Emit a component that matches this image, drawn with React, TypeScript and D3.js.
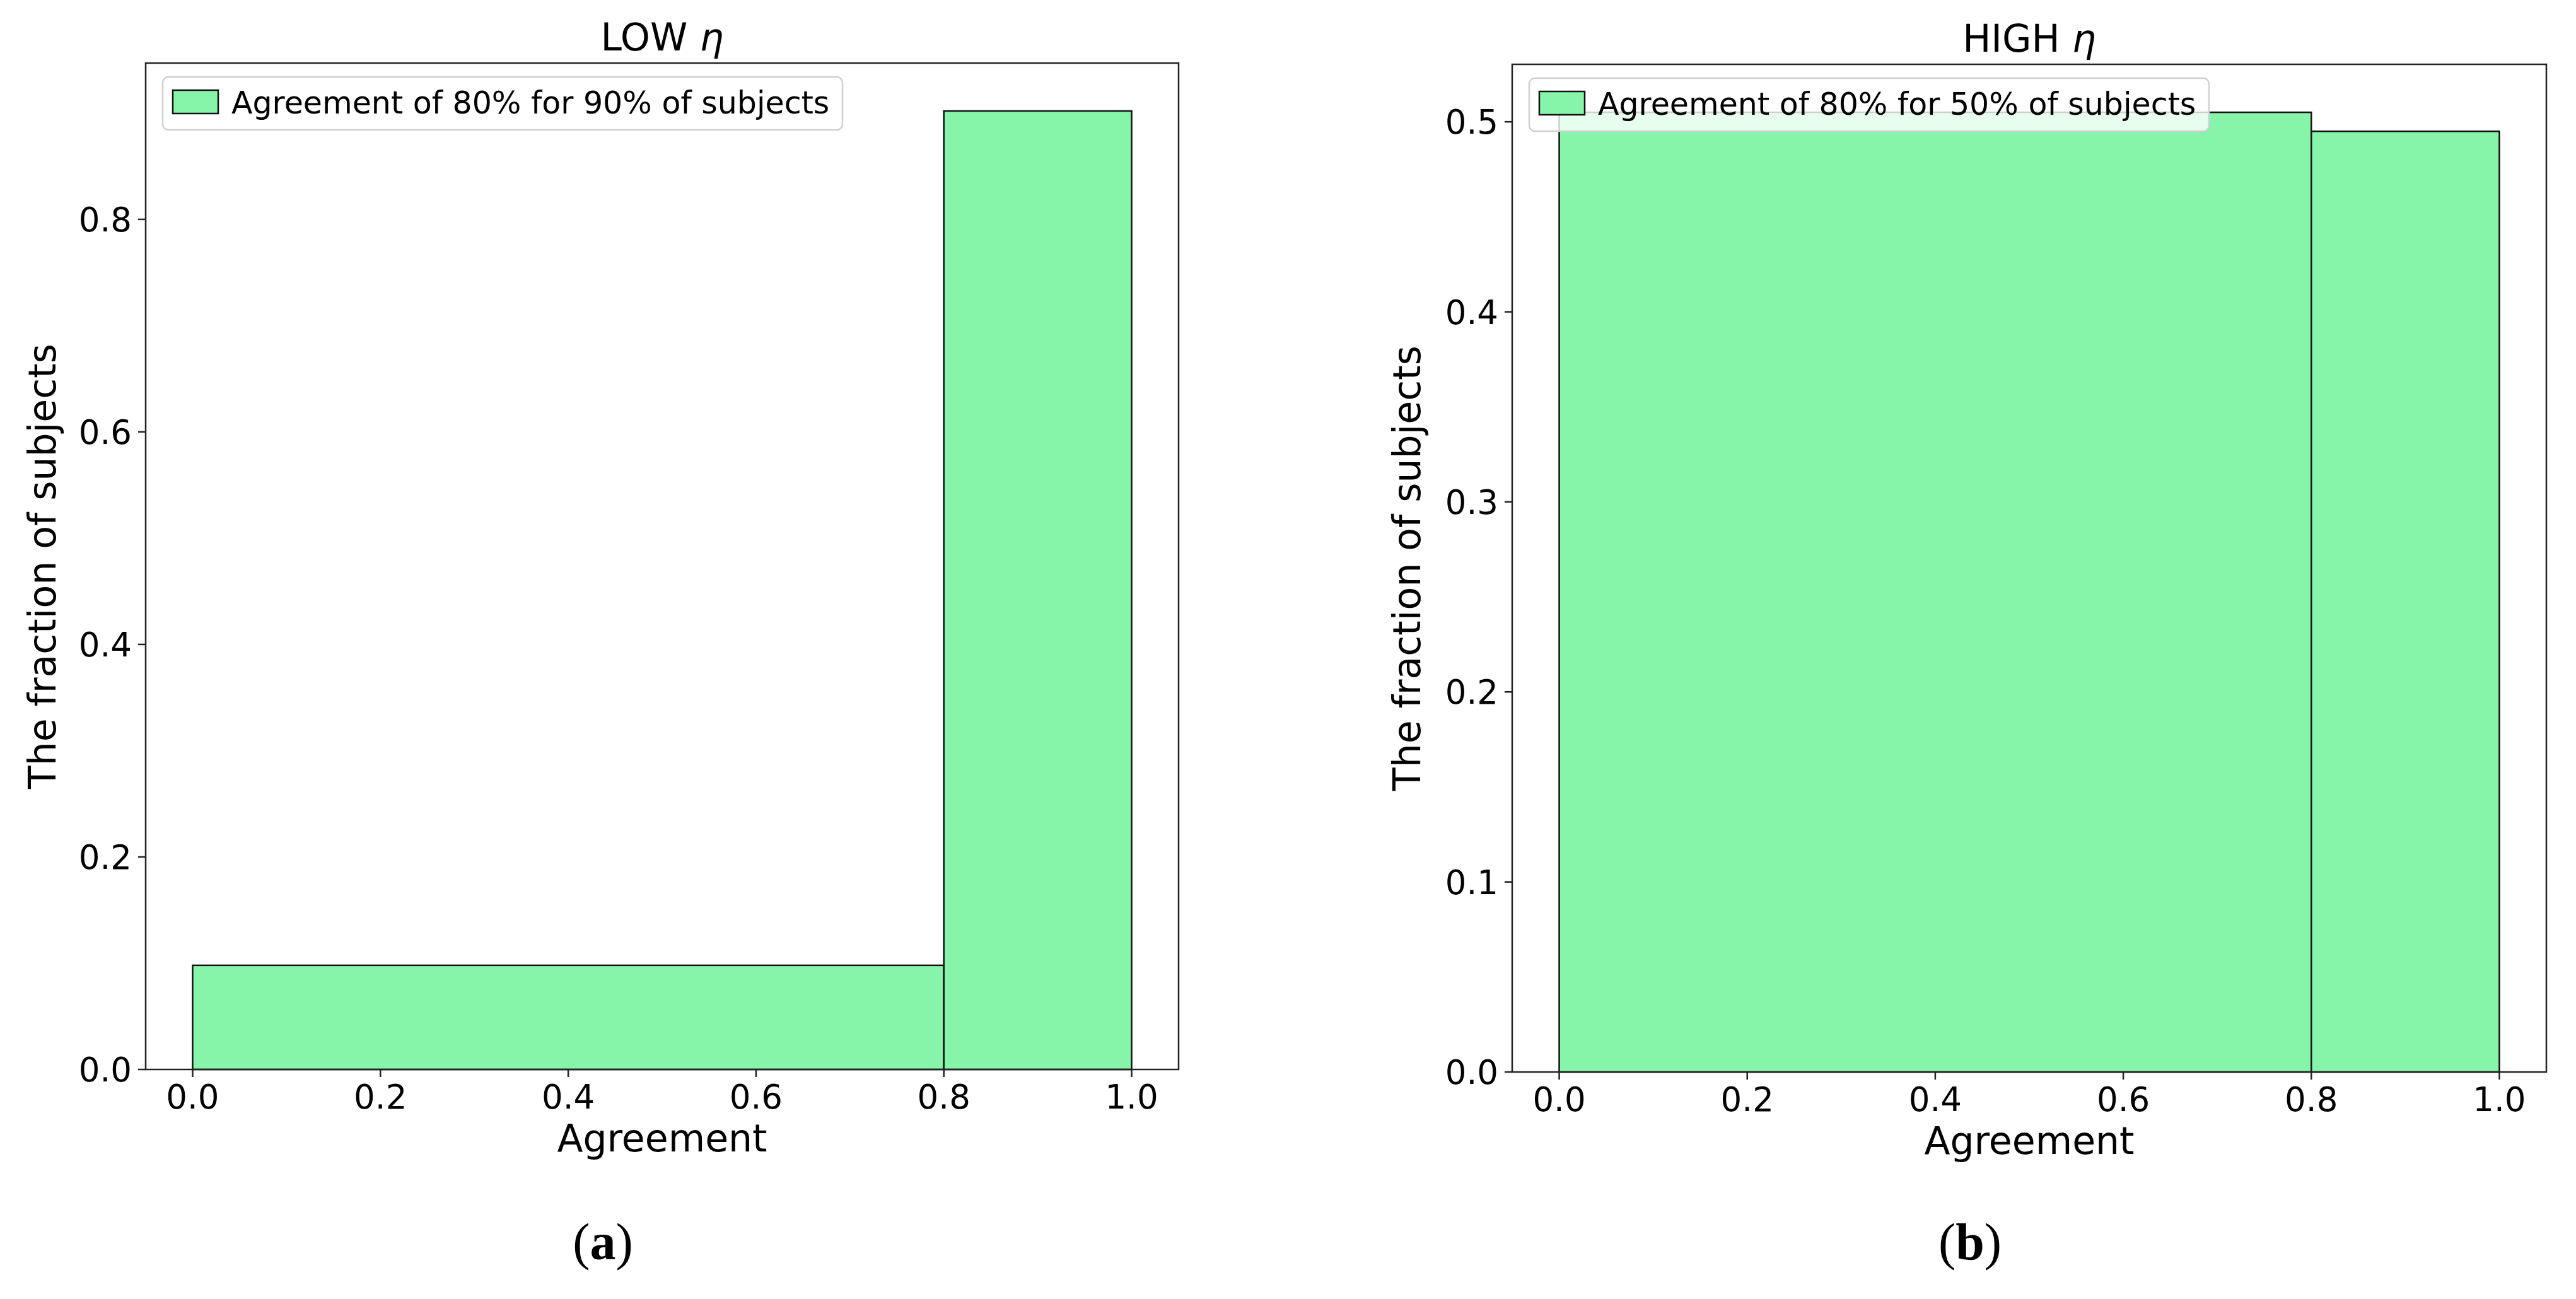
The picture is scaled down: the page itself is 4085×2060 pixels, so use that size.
import React from "react";
import * as d3 from "d3";

const binEdges = [0, 0.8, 1.0];
const lowEtaFractions = [0.098, 0.902];
const highEtaFractions = [0.505, 0.495];
const xTickValues = [0, 0.2, 0.4, 0.6, 0.8, 1.0];
const lowYTickValues = [0, 0.2, 0.4, 0.6, 0.8];
const highYTickValues = [0, 0.1, 0.2, 0.3, 0.4, 0.5];
const titlesMain = ["LOW", "HIGH"];
const legendLabels = [
  "Agreement of 80% for 90% of subjects",
  "Agreement of 80% for 50% of subjects",
];
const panelLetters = ["a", "b"];

const FONT = "'DejaVu Sans', sans-serif";
const FILL = "#86f4a9";

type PanelProps = {
  left: number;
  right: number;
  top: number;
  bottom: number;
  values: number[];
  yTicks: number[];
  title: string;
  legend: string;
  letter: string;
  ylabelX: number;
};

function Panel(p: PanelProps) {
  const x = d3.scaleLinear().domain([-0.05, 1.05]).range([p.left, p.right]);
  const ymax = (d3.max(p.values) as number) * 1.05;
  const y = d3.scaleLinear().domain([0, ymax]).range([p.bottom, p.top]);
  const bars = p.values.map((v, i) => ({ x0: binEdges[i], x1: binEdges[i + 1], v }));
  const cx = (p.left + p.right) / 2;
  const cy = (p.top + p.bottom) / 2;
  const lx = p.left + 27;
  const ly = p.top + 22;
  return (
    <g>
      {bars.map((b, i) => (
        <rect
          key={i}
          x={x(b.x0)}
          y={y(b.v)}
          width={x(b.x1) - x(b.x0)}
          height={y(0) - y(b.v)}
          fill={FILL}
          stroke="#111"
          strokeWidth={2.5}
        />
      ))}
      <rect
        x={p.left}
        y={p.top}
        width={p.right - p.left}
        height={p.bottom - p.top}
        fill="none"
        stroke="#222"
        strokeWidth={2.5}
      />
      {xTickValues.map((t) => (
        <g key={"x" + t}>
          <line x1={x(t)} x2={x(t)} y1={p.bottom} y2={p.bottom + 12} stroke="#222" strokeWidth={2.5} />
          <text x={x(t)} y={p.bottom + 62} textAnchor="middle" fontFamily={FONT} fontSize={53} fill="#000">
            {t.toFixed(1)}
          </text>
        </g>
      ))}
      {p.yTicks.map((t) => (
        <g key={"y" + t}>
          <line x1={p.left - 12} x2={p.left} y1={y(t)} y2={y(t)} stroke="#222" strokeWidth={2.5} />
          <text
            x={p.left - 22}
            y={y(t)}
            dy="0.36em"
            textAnchor="end"
            fontFamily={FONT}
            fontSize={53}
            fill="#000"
          >
            {t.toFixed(1)}
          </text>
        </g>
      ))}
      <text x={cx} y={p.bottom + 130} textAnchor="middle" fontFamily={FONT} fontSize={60} fill="#000">
        Agreement
      </text>
      <text
        transform={`translate(${p.ylabelX},${cy}) rotate(-90)`}
        textAnchor="middle"
        fontFamily={FONT}
        fontSize={60}
        fill="#000"
      >
        The fraction of subjects
      </text>
      <text x={cx} y={p.top - 20} textAnchor="middle" fontFamily={FONT} fontSize={60} fill="#000">
        {p.title} <tspan fontStyle="italic">η</tspan>
      </text>
      <rect
        x={lx}
        y={ly}
        width={1078}
        height={84}
        rx={9}
        fill="#fff"
        fillOpacity={0.8}
        stroke="#d0d0d0"
        strokeWidth={2.5}
      />
      <rect x={lx + 16} y={ly + 21} width={72} height={37} fill={FILL} stroke="#111" strokeWidth={2.5} />
      <text x={lx + 109} y={ly + 58} fontFamily={FONT} fontSize={49} fill="#000">
        {p.legend}
      </text>
      <text
        x={cx - 94}
        y={1997}
        textAnchor="middle"
        fontFamily="'Liberation Serif', 'Times New Roman', serif"
        fontSize={82}
        fill="#000"
      >
        (<tspan fontWeight="bold">{p.letter}</tspan>)
      </text>
    </g>
  );
}

export default function App() {
  return (
    <svg
      width={4085}
      height={2060}
      viewBox="0 0 4085 2060"
      style={{ position: "absolute", left: 0, top: 0, background: "#fff" }}
    >
      <rect width={4085} height={2060} fill="#fff" />
      <Panel
        left={231}
        right={1869}
        top={100}
        bottom={1696}
        values={lowEtaFractions}
        yTicks={lowYTickValues}
        title={titlesMain[0]}
        legend={legendLabels[0]}
        letter={panelLetters[0]}
        ylabelX={88}
      />
      <Panel
        left={2398}
        right={4038}
        top={102}
        bottom={1700}
        values={highEtaFractions}
        yTicks={highYTickValues}
        title={titlesMain[1]}
        legend={legendLabels[1]}
        letter={panelLetters[1]}
        ylabelX={2252}
      />
    </svg>
  );
}
